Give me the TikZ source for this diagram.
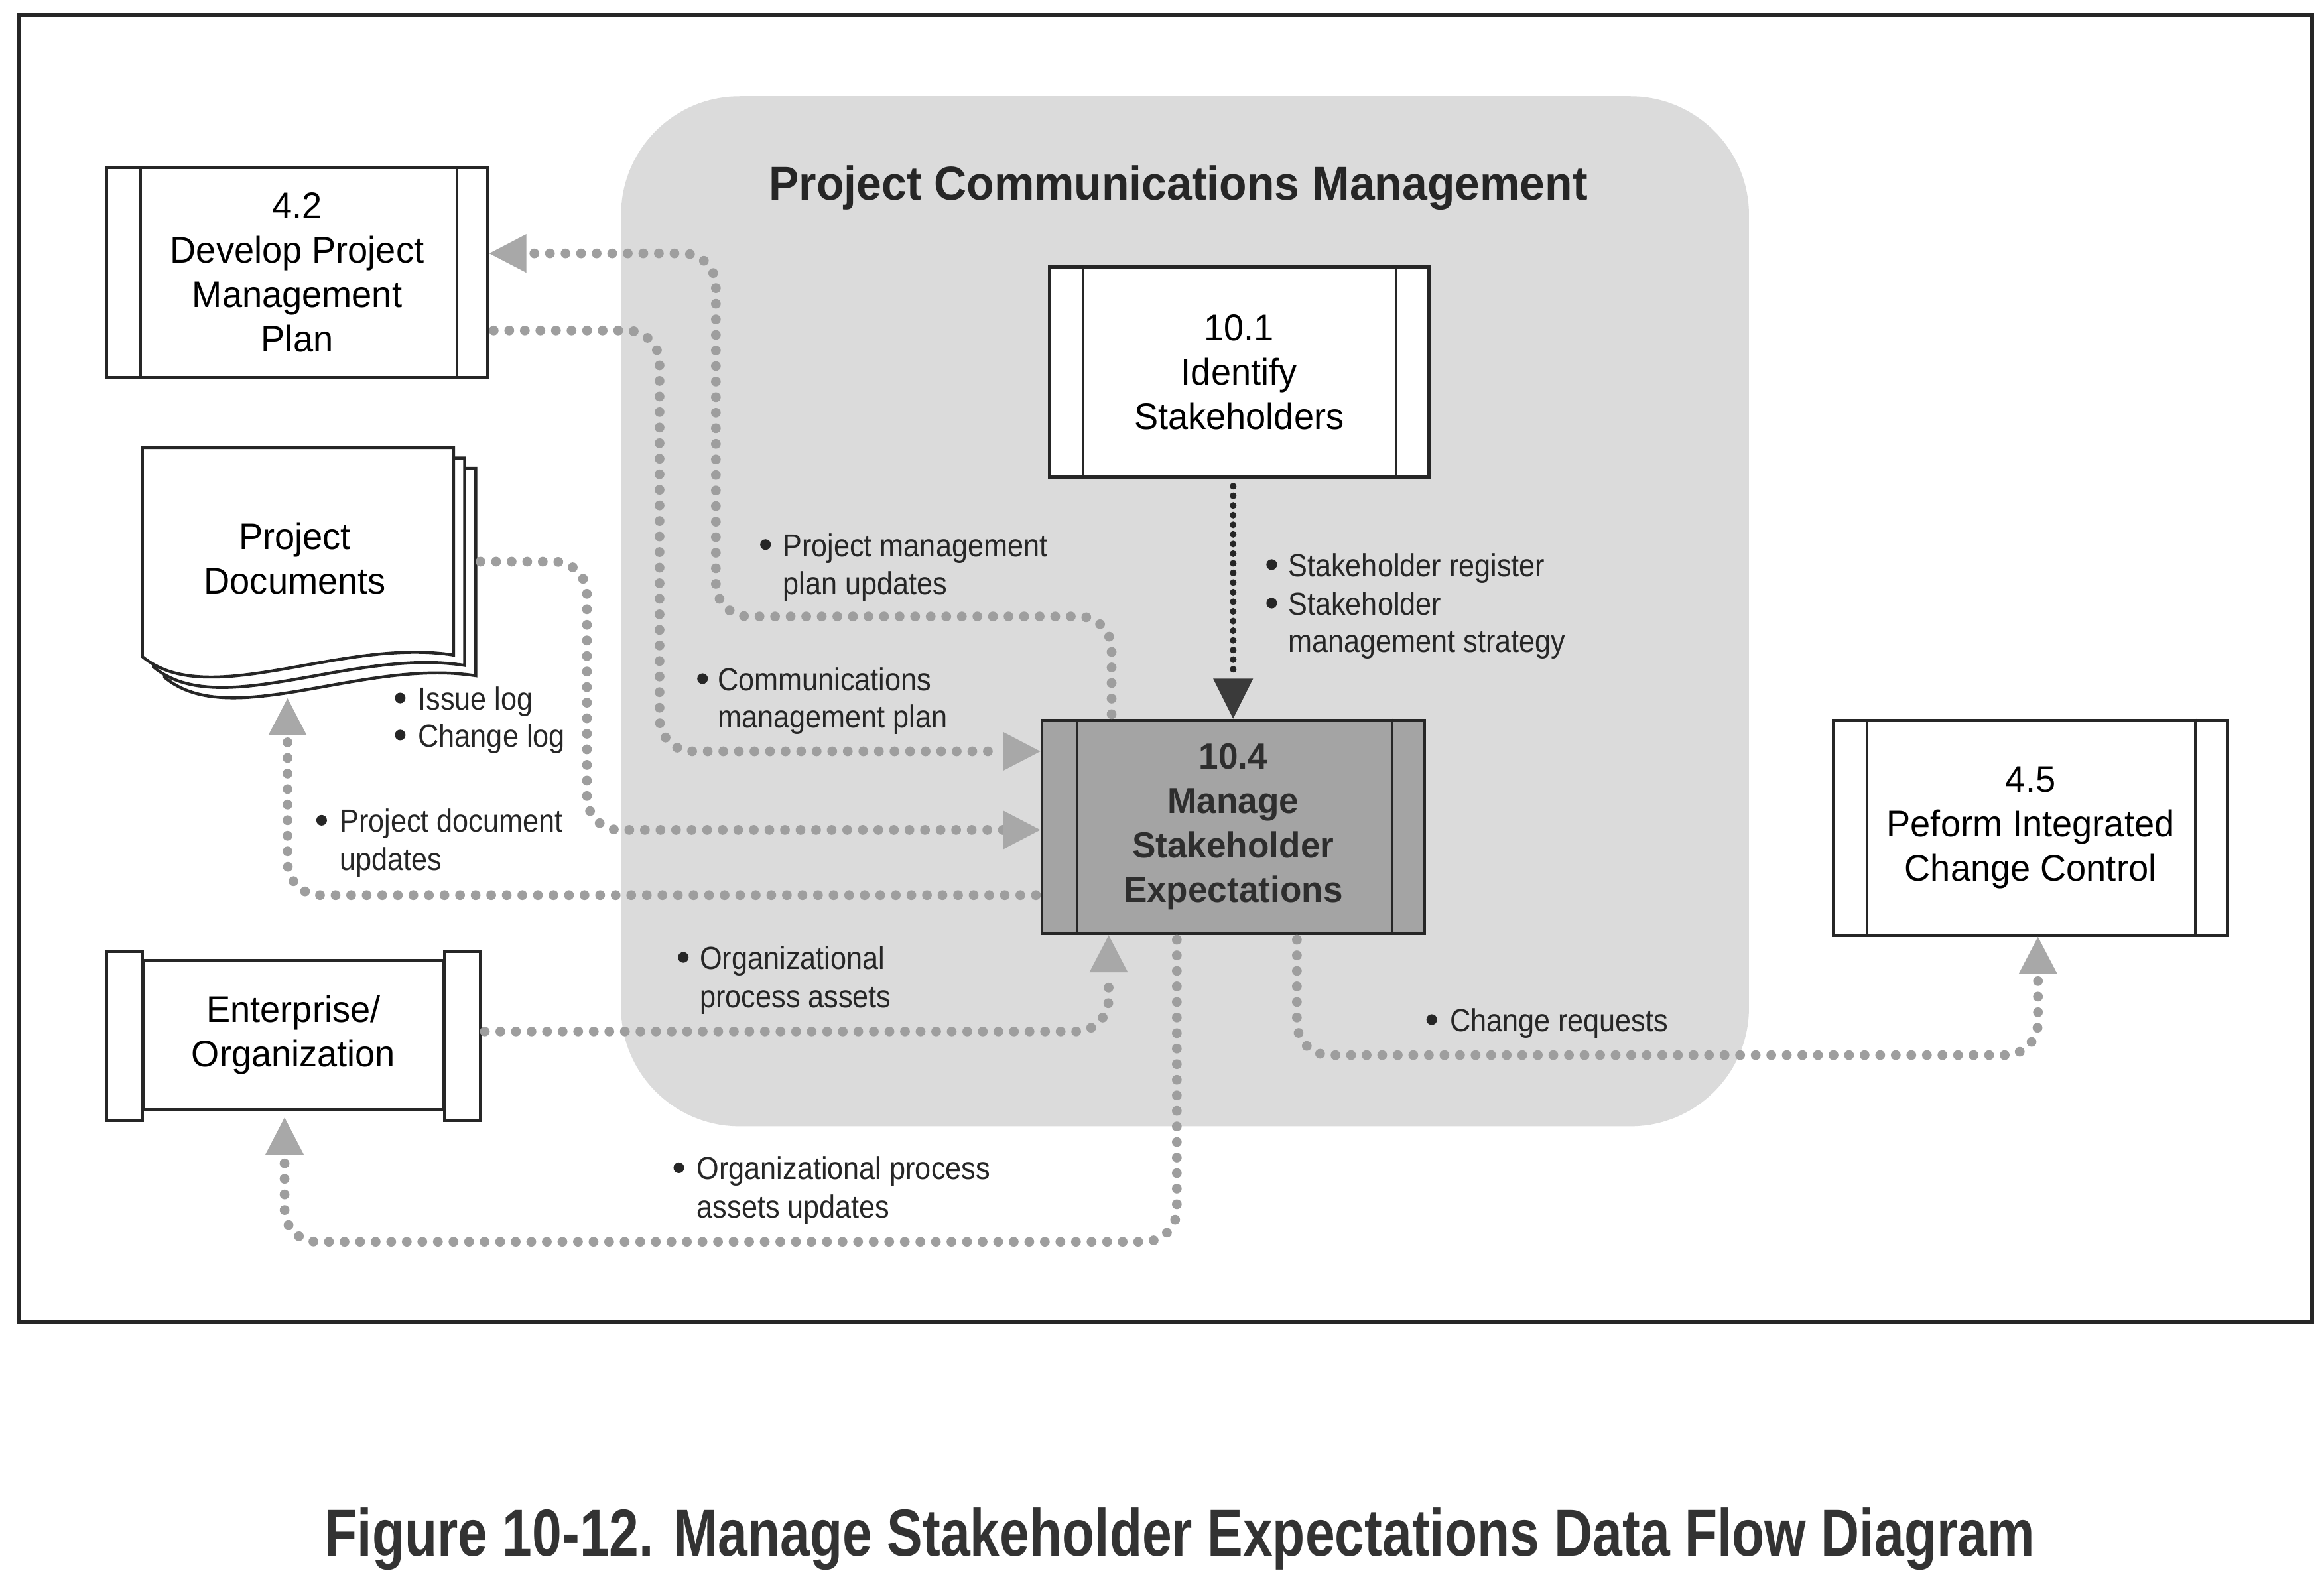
\documentclass[tikz,border=0pt]{standalone}
\usepackage{fontspec}
\setmainfont{Liberation Sans}
\newfontfamily\boxfont{Liberation Sans}[FakeStretch=0.97]
\newfontfamily\labfont{Liberation Sans}[FakeStretch=0.9]
\newfontfamily\titfont{Liberation Sans}[FakeStretch=0.95]
\newfontfamily\capfont{Liberation Sans}[FakeStretch=0.8]
\usetikzlibrary{arrows.meta}
\definecolor{regiongray}{HTML}{DBDBDB}
\definecolor{dotgray}{HTML}{9E9E9E}
\definecolor{tipgray}{HTML}{A8A8A8}
\definecolor{boxgray}{HTML}{A4A4A4}
\definecolor{ink}{HTML}{262626}
\definecolor{darktipc}{HTML}{3A3A3A}
\tikzset{
  proc/.style={draw=ink, line width=2.2pt, fill=white, inner sep=0pt,
    font=\boxfont\fontsize{25}{30}\selectfont, align=center, text=black},
  bar/.style={draw=ink, line width=1.5pt},
  flow/.style={draw=dotgray, line width=6.6pt, line cap=round,
    dash pattern=on 0pt off 10.5pt, rounded corners=22pt, shorten <=3pt,
    -{Triangle[length=25pt,width=26pt,line width=0pt,color=tipgray,fill=tipgray]}},
  darkflow/.style={draw=ink, line width=4.5pt, line cap=round,
    dash pattern=on 0pt off 6.5pt, shorten <=5pt,
    -{Triangle[length=27pt,width=27pt,line width=0pt,color=darktipc,fill=darktipc]}},
  lab/.style={font=\labfont\fontsize{21.5}{26}\selectfont, text=ink, anchor=base west, inner sep=0pt},
  bul/.style={fill=ink},
  page/.style={draw=ink, line width=2pt, fill=white},
}
\begin{document}
\begin{tikzpicture}[x=1pt,y=-1pt]
\useasboundingbox (0,0) rectangle (1568,1064);
\fill[white] (0,0) rectangle (1568,1064);
% shaded process group
\fill[regiongray, rounded corners=80pt] (419,65) rectangle (1180,760);
% outer frame
\draw[ink, line width=2.5pt] (13,10) rectangle (1560,892);

\node[font=\titfont\bfseries\fontsize{32}{38}\selectfont, text=ink, anchor=base] (title) at (795,135) {Project Communications Management};

% process boxes
\node[proc, minimum width=257pt, minimum height=142pt] (n42) at (200.5,184) {4.2\\Develop Project\\Management\\Plan};
\draw[bar] ([xshift=24pt]n42.north west) -- ([xshift=24pt]n42.south west);
\draw[bar] ([xshift=-22pt]n42.north east) -- ([xshift=-22pt]n42.south east);

\node[proc, minimum width=256pt, minimum height=142pt] (n101) at (836,251) {10.1\\Identify\\Stakeholders};
\draw[bar] ([xshift=24pt]n101.north west) -- ([xshift=24pt]n101.south west);
\draw[bar] ([xshift=-23pt]n101.north east) -- ([xshift=-23pt]n101.south east);

\node[proc, fill=boxgray, minimum width=258pt, minimum height=144pt,
  font=\boxfont\bfseries\fontsize{24.5}{30}\selectfont, text=black!82] (n104) at (832,558) {10.4\\Manage\\Stakeholder\\Expectations};
\draw[bar] ([xshift=25pt]n104.north west) -- ([xshift=25pt]n104.south west);
\draw[bar] ([xshift=-23pt]n104.north east) -- ([xshift=-23pt]n104.south east);

\node[proc, minimum width=266pt, minimum height=145pt] (n45) at (1370,558.5) {4.5\\Peform Integrated\\Change Control};
\draw[bar] ([xshift=24pt]n45.north west) -- ([xshift=24pt]n45.south west);
\draw[bar] ([xshift=-23pt]n45.north east) -- ([xshift=-23pt]n45.south east);

% enterprise / organization
\node[proc, minimum width=202pt, minimum height=101pt] (ent) at (198,698.5) {Enterprise/\\Organization};
\draw[page] ([xshift=-24pt,yshift=5pt]ent.north west) rectangle ([yshift=-6pt]ent.south west);
\draw[page] ([yshift=5pt]ent.north east) rectangle ([xshift=24pt,yshift=-6pt]ent.south east);

% project documents (stack of pages)
\begin{scope}[shift={(15,14)}]
\draw[page] (96,302) -- (306,302) -- (306,442) .. controls (230,430) and (140,480) .. (96,443) -- cycle;
\end{scope}
\begin{scope}[shift={(7.5,7)}]
\draw[page] (96,302) -- (306,302) -- (306,442) .. controls (230,430) and (140,480) .. (96,443) -- cycle;
\end{scope}
\draw[page] (96,302) -- (306,302) -- (306,442) .. controls (230,430) and (140,480) .. (96,443) -- cycle;
\node[inner sep=0pt, minimum width=225pt, minimum height=169pt] (pd) at (208.5,386.5) {};
\node[font=\boxfont\fontsize{25}{30}\selectfont, align=center, inner sep=0pt] (pdtext) at (199,377) {Project\\Documents};

% data flows
\draw[flow] ([xshift=-82pt]n104.north) |- (483,416) |- ([yshift=13pt]n42.east);
\draw[flow] ([yshift=-39pt]n42.east) -| (445,507) -- ([yshift=51pt]n104.west);
\draw[flow] ([yshift=7.5pt]pd.east) -| (396,560) -- ([yshift=-2pt]n104.west);
\draw[flow] ([yshift=-46pt]n104.west) -| ([xshift=-14.5pt]pd.south);
\draw[flow] ([xshift=24pt,yshift=2.5pt]ent.east) -| ([xshift=-84pt]n104.south);
\draw[flow] ([xshift=-38pt]n104.south) |- (192,838) -- ([xshift=-6pt,yshift=-4pt]ent.south);
\draw[flow] ([xshift=43pt]n104.south) |- (1375,712) -- ([xshift=5pt]n45.south);
\draw[darkflow] (n101.south -| n104.north) -- (n104.north);

% labels
\fill[bul] (516.5,367.5) circle (3.6pt);
\node[lab] (l1a) at (528,375.5) {Project management};
\node[lab] (l1b) at (528,401) {plan updates};

\fill[bul] (858,381) circle (3.6pt);
\node[lab] (l2a) at (869,389) {Stakeholder register};
\fill[bul] (858,407) circle (3.6pt);
\node[lab] (l2b) at (869,415) {Stakeholder};
\node[lab] (l2c) at (869,440) {management strategy};

\fill[bul] (474,458) circle (3.6pt);
\node[lab] (l3a) at (484,466) {Communications};
\node[lab] (l3b) at (484,491) {management plan};

\fill[bul] (270,471) circle (3.6pt);
\node[lab] (l4a) at (282,479) {Issue log};
\fill[bul] (270,496) circle (3.6pt);
\node[lab] (l4b) at (282,504) {Change log};

\fill[bul] (217,553.5) circle (3.6pt);
\node[lab] (l5a) at (229,561.5) {Project document};
\node[lab] (l5b) at (229,587.5) {updates};

\fill[bul] (461,646) circle (3.6pt);
\node[lab] (l6a) at (472,654) {Organizational};
\node[lab] (l6b) at (472,680) {process assets};

\fill[bul] (966,688) circle (3.6pt);
\node[lab] (l7) at (978,696) {Change requests};

\fill[bul] (458,788) circle (3.6pt);
\node[lab] (l8a) at (470,796) {Organizational process};
\node[lab] (l8b) at (470,822) {assets updates};

% caption
\node[font=\capfont\bfseries\fontsize{45}{54}\selectfont, text=black!80, anchor=base] (caption) at (796,1050) {Figure 10-12. Manage Stakeholder Expectations Data Flow Diagram};
\end{tikzpicture}
\end{document}
